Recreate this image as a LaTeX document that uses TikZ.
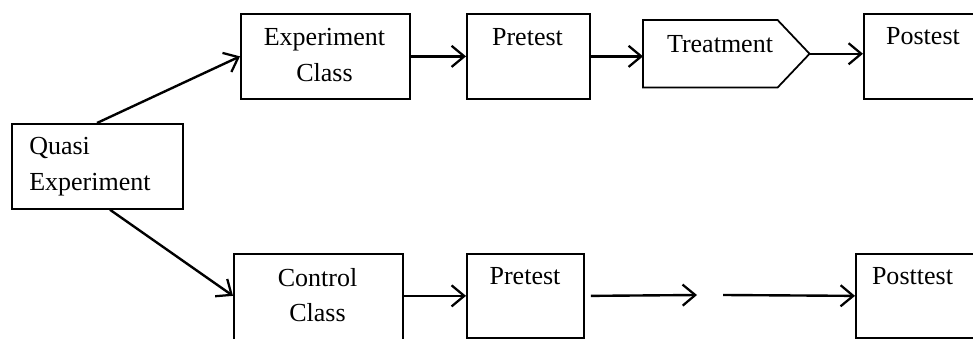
\documentclass[tikz,border=0pt]{standalone}
\usepackage{fontspec}
\setmainfont{Liberation Serif}
\usetikzlibrary{arrows.meta}
\newlength\upx \setlength\upx{0.025cm}
\begin{document}
\begin{tikzpicture}[x=0.025cm,y=-0.025cm,
  box/.style={draw,line width=1.25pt,inner sep=0pt,anchor=north west},
  ghost/.style={inner sep=0pt,anchor=north west},
  lbl/.style={font=\fontsize{18.5}{24}\selectfont,inner sep=0pt,anchor=base},
  lblw/.style={lbl,anchor=base west},
  arr/.style={line width=1.7pt,-{Straight Barb[length=9pt,width=15pt,line width=1.6pt]}}]
\useasboundingbox (0,0) rectangle (973,339);
% boxes
\node[box,minimum width=171\upx,minimum height=85\upx] (quasi) at (11,123) {};
\node[box,minimum width=169\upx,minimum height=85\upx] (expc) at (240,13) {};
\node[box,minimum width=123\upx,minimum height=85\upx] (pre1) at (466,13) {};
\node[ghost,minimum width=166\upx,minimum height=67\upx] (treat) at (643,20) {};
\draw[line width=1.25pt] (treat.north west) -- ([xshift=-32\upx]treat.north east) -- (treat.east)
  -- ([xshift=-32\upx]treat.south east) -- (treat.south west) -- cycle;
\node[box,minimum width=140\upx,minimum height=85\upx] (post1) at (863,13) {};
\node[box,minimum width=169\upx,minimum height=90\upx] (ctrl) at (233,253) {};
\node[box,minimum width=117\upx,minimum height=84\upx] (pre2) at (466,253) {};
\node[box,minimum width=140\upx,minimum height=84\upx] (post2) at (855,253) {};
% texts
\node[lblw] (tq1) at (29,155) {Quasi};
\node[lblw] (tq2) at (29,191) {Experiment};
\node[lbl] (te1) at (324.5,46) {Experiment};
\node[lbl] (te2) at (324.5,82) {Class};
\node[lbl] (tp1) at (527.5,46) {Pretest};
\node[lbl] (tt) at (720,53) {Treatment};
\node[lbl] (tpo1) at (923,45) {Postest};
\node[lbl] (tc1) at (317.5,287) {Control};
\node[lbl] (tc2) at (317.5,322) {Class};
\node[lbl] (tp2) at (525,285) {Pretest};
\node[lbl] (tpo2) at (912.5,285) {Posttest};
% connectors
\coordinate (gapA) at (697,295);
\coordinate (gapB) at (723,295);
\draw[arr] ([xshift=86\upx]quasi.north west) -- (expc.west);
\draw[arr] ([xshift=99\upx]quasi.south west) -- (ctrl.west |- pre2.west);
\draw[arr] (expc.east) -- (pre1.west);
\draw[arr] (pre1.east) -- (pre1.east -| treat.west);
\draw[arr] (treat.east) -- (treat.east -| post1.west);
\draw[arr] (ctrl.east |- pre2.west) -- (pre2.west);
\draw[arr] ([xshift=6\upx]pre2.east) -- (gapA);
\draw[arr] (gapB) -- (post2.west);
\end{tikzpicture}
\end{document}
